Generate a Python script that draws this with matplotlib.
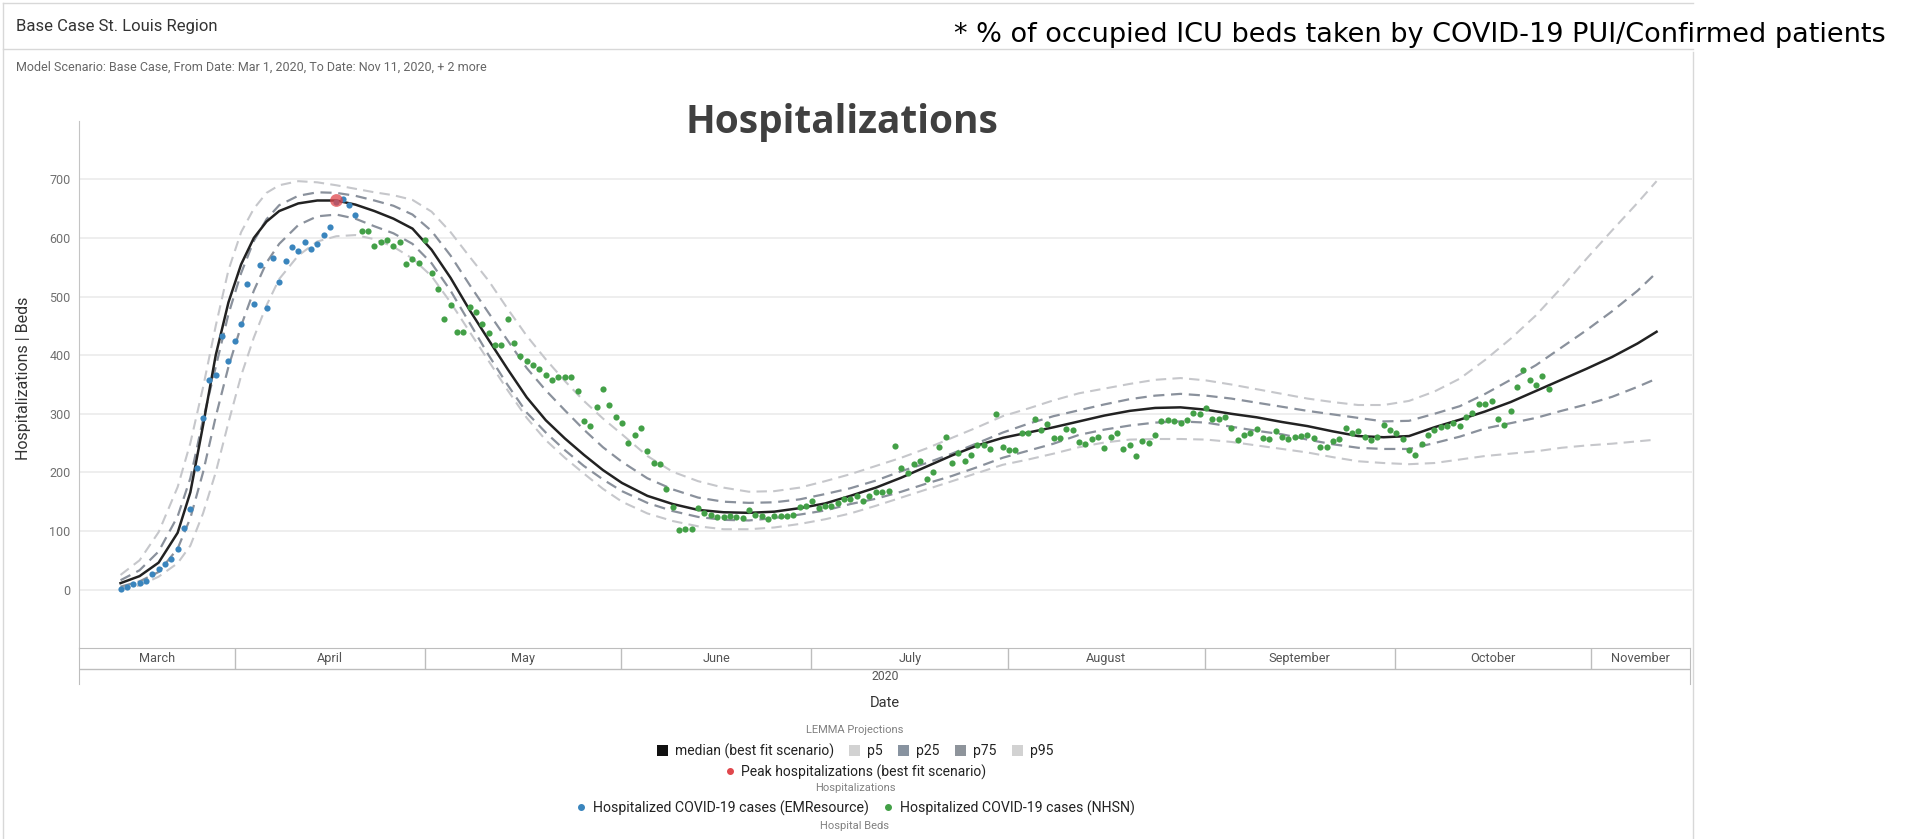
import numpy as np
import pandas as pd
import matplotlib
matplotlib.use("Agg")
import matplotlib.pyplot as plt
from matplotlib.lines import Line2D
from matplotlib.patches import Patch

plt.rcParams['font.family'] = ['Roboto', 'DejaVu Sans']

# LEMMA projection curves
curve_dates = ["2020-03-14", "2020-03-17", "2020-03-20", "2020-03-23", "2020-03-25", "2020-03-27",
               "2020-03-29", "2020-03-31", "2020-04-02", "2020-04-04", "2020-04-06", "2020-04-08",
               "2020-04-11", "2020-04-14", "2020-04-17", "2020-04-20", "2020-04-23", "2020-04-26",
               "2020-04-29", "2020-05-02", "2020-05-05", "2020-05-08", "2020-05-11", "2020-05-14",
               "2020-05-17", "2020-05-20", "2020-05-23", "2020-05-26", "2020-05-29", "2020-06-01",
               "2020-06-05", "2020-06-09", "2020-06-13", "2020-06-17", "2020-06-21", "2020-06-25",
               "2020-06-29", "2020-07-03", "2020-07-07", "2020-07-11", "2020-07-15", "2020-07-19",
               "2020-07-23", "2020-07-27", "2020-07-31", "2020-08-04", "2020-08-08", "2020-08-12",
               "2020-08-16", "2020-08-20", "2020-08-24", "2020-08-28", "2020-09-01", "2020-09-05",
               "2020-09-09", "2020-09-13", "2020-09-17", "2020-09-21", "2020-09-25", "2020-09-29",
               "2020-10-03", "2020-10-07", "2020-10-11", "2020-10-15", "2020-10-19", "2020-10-23",
               "2020-10-27", "2020-10-31", "2020-11-04", "2020-11-08", "2020-11-11"]

median = [11, 23, 46, 97, 166, 280, 400, 490, 555, 600, 628, 646,
          659, 664, 664, 657, 646, 633, 616, 580, 532, 477, 426, 376,
          328, 289, 258, 230, 204, 182, 160, 146, 136, 132, 131, 133,
          139, 147, 160, 174, 191, 210, 229, 246, 259, 268, 277, 287,
          297, 305, 310, 311, 307, 300, 294, 286, 279, 270, 262, 260,
          262, 277, 290, 304, 320, 339, 358, 377, 397, 420, 440]

p95 = [25, 50, 98, 175, 250, 345, 450, 545, 610, 650, 677, 690,
       697, 695, 690, 684, 678, 673, 665, 645, 610, 568, 527, 479,
       433, 393, 356, 322, 292, 265, 228, 201, 185, 174, 167, 168,
       174, 185, 197, 211, 225, 241, 259, 277, 296, 309, 323, 335,
       343, 351, 358, 361, 357, 350, 342, 334, 326, 320, 315, 315,
       322, 338, 360, 392, 428, 468, 515, 565, 613, 660, 697]

p75 = [16, 33, 65, 125, 190, 290, 380, 470, 540, 595, 632, 656,
       672, 678, 677, 672, 664, 655, 640, 612, 570, 520, 472, 425,
       378, 340, 306, 273, 243, 218, 190, 171, 157, 150, 148, 149,
       154, 163, 173, 186, 202, 216, 232, 250, 268, 283, 296, 306,
       316, 325, 331, 334, 331, 326, 319, 312, 305, 299, 293, 287,
       288, 300, 313, 334, 358, 383, 413, 443, 475, 510, 541]

p25 = [5, 14, 30, 70, 122, 200, 295, 380, 450, 510, 558, 590,
       622, 637, 640, 633, 620, 608, 590, 557, 510, 455, 400, 349,
       302, 268, 238, 211, 188, 168, 148, 134, 124, 119, 118, 122,
       128, 135, 146, 155, 167, 181, 194, 209, 225, 237, 249, 264,
       273, 280, 285, 287, 285, 278, 271, 265, 256, 248, 242, 240,
       240, 250, 261, 275, 284, 293, 305, 316, 329, 346, 360]

p5 = [1, 7, 22, 45, 75, 130, 200, 285, 365, 430, 485, 530,
      570, 594, 603, 605, 598, 585, 565, 535, 490, 440, 390, 340,
      293, 255, 225, 198, 172, 150, 130, 117, 108, 103, 103, 106,
      112, 120, 130, 143, 157, 171, 185, 199, 213, 222, 232, 243,
      251, 256, 257, 257, 256, 252, 246, 240, 234, 226, 219, 216,
      214, 216, 222, 228, 232, 236, 242, 246, 249, 253, 256]

# daily observed hospitalizations
emr_start = "2020-03-14"
emr_cases = [1, 4, 10, 12, 15, 27, 35, 44, 53, 70, 105, 138, 208, 292, 358, 367, 432, 390,
             424, 453, 522, 488, 554, 480, 566, 525, 561, 585, 578, 594, 582, 589, 605, 618,
             662, 667, 656, 639]

nhsn_start = "2020-04-21"
nhsn_cases = [612, 612, 586, 594, 596, 586, 594, 555, 565, 558, 597, 541, 513, 462, 485, 439,
              440, 483, 474, 453, 438, 417, 417, 462, 421, 398, 390, 383, 376, 366, 358, 363,
              363, 363, 339,
              287, 280, 311, 342, 315, 295, 284, 251, 264, 276, 237, 216, 215, 172, 141, 102,
              103, 103,
              139, 131, 128, 124, 124, 125, 124, 122, 135, 128, 126, 120, 126, 125, 125, 128,
              141, 142, 151, 139, 142, 142, 148, 155, 155, 159, 152, 160, 166, 166, 168,
              245, 207, 199, 215, 219, 188, 200, 244, 260, 216, 233, 220, 230, 246, 246, 240,
              300, 244, 239, 239, 268, 268, 291, 273, 282, 258, 258,
              274, 272, 252, 249, 257, 261, 241, 260, 267, 240, 247, 228, 253, 250, 264, 287,
              289, 287, 284, 289, 302, 300,
              310, 291, 291, 295, 276, 256, 264, 267, 274, 259, 257, 270, 261, 257, 260, 262,
              264, 259, 243, 243, 253, 257, 276, 268, 270, 261, 256, 260, 281, 273,
              268, 257, 238, 230, 249, 264, 273, 278, 280, 285, 280, 295, 302, 317, 317, 321,
              291, 281, 304, 345, 375, 357, 349, 365, 342]

peak_date = "2020-04-17"
peak_value = 664

month_starts = ["2020-03-01", "2020-04-01", "2020-05-01", "2020-06-01", "2020-07-01",
                "2020-08-01", "2020-09-01", "2020-10-01", "2020-11-01", "2020-12-01"]
month_names = ["March", "April", "May", "June", "July", "August", "September", "October", "November"]
y_ticks = [0, 100, 200, 300, 400, 500, 600, 700]
x_range = ["2020-03-07 11:00", "2020-11-16 14:00"]

LIGHT = "#c6c7cb"
MID = "#8a919c"
BLUE = "#3a85bd"
GREEN = "#43a047"
RED = "#e0474c"

W_PX, H_PX = 1914, 839
fig = plt.figure(figsize=(W_PX / 100, H_PX / 100), dpi=100)


def fx(px):
    return px / W_PX


def fy(px):
    return 1 - px / H_PX


# panel frame + header
fig.add_artist(Line2D([fx(3), fx(1693)], [fy(3), fy(3)], color="#d8d8d8", lw=1))
fig.add_artist(Line2D([fx(3), fx(3)], [fy(3), 0], color="#d8d8d8", lw=1))
fig.add_artist(Line2D([fx(3), fx(1693)], [fy(49), fy(49)], color="#d8d8d8", lw=1))
fig.add_artist(Line2D([fx(1693), fx(1693)], [fy(52), 0], color="#d8d8d8", lw=1))
fig.text(fx(16), fy(26), "Base Case St. Louis Region", fontsize=12, color="#333333", va="center")
fig.text(fx(16), fy(67), "Model Scenario: Base Case, From Date: Mar 1, 2020, To Date: Nov 11, 2020, + 2 more",
         fontsize=9, color="#666666", va="center")
fig.text(fx(1886), fy(35), "* % of occupied ICU beds taken by COVID-19 PUI/Confirmed patients",
         family="DejaVu Sans", fontsize=19.5, color="black", ha="right", va="center")
fig.text(fx(842), fy(122), "Hospitalizations", family="Open Sans", fontweight="bold",
         fontsize=28, color="#404040", ha="center", va="center")

# main plot
ax_l, ax_r, ax_t, ax_b = 79, 1692, 120.8, 648.2
ax = fig.add_axes([fx(ax_l), fy(ax_b), fx(ax_r - ax_l), (ax_b - ax_t) / H_PX])

cd = pd.to_datetime(curve_dates)
ax.plot(cd, p95, color=LIGHT, lw=1.5, dashes=(5, 3), zorder=2)
ax.plot(cd, p5, color=LIGHT, lw=1.5, dashes=(5, 3), zorder=2)
ax.plot(cd, p75, color=MID, lw=1.6, dashes=(5, 3), zorder=3)
ax.plot(cd, p25, color=MID, lw=1.6, dashes=(5, 3), zorder=3)
ax.plot(cd, median, color="#222222", lw=1.8, zorder=4)

emr_dates = pd.date_range(emr_start, periods=len(emr_cases), freq="D")
nhsn_dates = pd.date_range(nhsn_start, periods=len(nhsn_cases), freq="D")
ax.scatter(emr_dates, emr_cases, s=20, color=BLUE, lw=0, zorder=5)
ax.scatter(nhsn_dates, nhsn_cases, s=20, color=GREEN, lw=0, zorder=5)
ax.scatter([pd.Timestamp(peak_date)], [peak_value], s=85, color=RED, alpha=0.75, lw=0, zorder=6)

ax.set_xlim(pd.to_datetime(x_range))
ax.set_ylim(-100, 800)
ax.set_yticks(y_ticks)
ax.yaxis.grid(True, color="#ebebeb", lw=1.2)
ax.set_axisbelow(True)
ax.tick_params(axis="y", length=0, labelsize=9, labelcolor="#707070", pad=6)
ax.tick_params(axis="x", bottom=False, labelbottom=False)
for side in ["top", "right", "bottom"]:
    ax.spines[side].set_visible(False)
ax.spines["left"].set_color("#c4c4c4")

fig.text(fx(24), fy(378), "Hospitalizations | Beds", rotation=90, fontsize=11.5,
         color="#333333", ha="center", va="center")

# month band under the plot
band_t, band_b, band_mid = 648.2, 684, 669
band = fig.add_axes([fx(ax_l), fy(band_b), fx(1690 - ax_l), (band_b - band_t) / H_PX], sharex=ax)
band.set_ylim(0, 1)
band.tick_params(left=False, bottom=False, labelleft=False, labelbottom=False)
for side in ["top", "left", "right"]:
    band.spines[side].set_color("#bdbdbd")
band.spines["bottom"].set_visible(False)
band.patch.set_alpha(0)
mid_y = (band_b - band_mid) / (band_b - band_t)
band.axhline(mid_y, color="#bdbdbd", lw=1)
ms = pd.to_datetime(month_starts)
lo, hi = pd.to_datetime(x_range)
inner = [m for m in ms if lo < m < hi]
band.vlines(inner, mid_y, 1, color="#bdbdbd", lw=1)
for name, a, b in zip(month_names, ms[:-1], ms[1:]):
    a, b = max(a, lo), min(b, hi)
    band.text(a + (b - a) / 2, (mid_y + 1) / 2, name, ha="center", va="center",
              fontsize=9.2, color="#555555")
band.set_xlim(lo, hi)

fig.text(fx(885), fy(676), "2020", fontsize=8.8, color="#555555", ha="center", va="center")
fig.text(fx(885), fy(703), "Date", fontsize=10.5, color="#333333", ha="center", va="center")

# legend block
cx = fx(855)
fig.text(cx, fy(730), "LEMMA Projections", fontsize=8, color="#808080", ha="center", va="center")
proj = [Patch(facecolor="#111111"), Patch(facecolor="#d2d2d2"), Patch(facecolor="#8893a0"),
        Patch(facecolor="#8e949b"), Patch(facecolor="#d2d2d2")]
fig.legend(proj, ["median (best fit scenario)", "p5", "p25", "p75", "p95"], loc="center",
           bbox_to_anchor=(cx, fy(751)), ncol=5, frameon=False, fontsize=10,
           handlelength=0.8, handleheight=0.8, handletextpad=0.5, columnspacing=1.1,
           borderpad=0, labelcolor="#222222")
fig.legend([Line2D([], [], ls="", marker="o", markersize=4, color=RED)],
           ["Peak hospitalizations (best fit scenario)"], loc="center",
           bbox_to_anchor=(cx, fy(772)), frameon=False, fontsize=10, handlelength=0.8,
           handletextpad=0.4, borderpad=0, labelcolor="#222222")
fig.text(cx, fy(788), "Hospitalizations", fontsize=8, color="#808080", ha="center", va="center")
fig.legend([Line2D([], [], ls="", marker="o", markersize=4, color=BLUE),
            Line2D([], [], ls="", marker="o", markersize=4, color=GREEN)],
           ["Hospitalized COVID-19 cases (EMResource)", "Hospitalized COVID-19 cases (NHSN)"],
           loc="center", bbox_to_anchor=(cx, fy(808)), ncol=2, frameon=False, fontsize=10.2,
           handlelength=0.8, handletextpad=0.4, columnspacing=1.0, borderpad=0,
           labelcolor="#222222")
fig.text(cx, fy(826), "Hospital Beds", fontsize=8, color="#808080", ha="center", va="center")

fig.savefig("out.png", dpi=100)
